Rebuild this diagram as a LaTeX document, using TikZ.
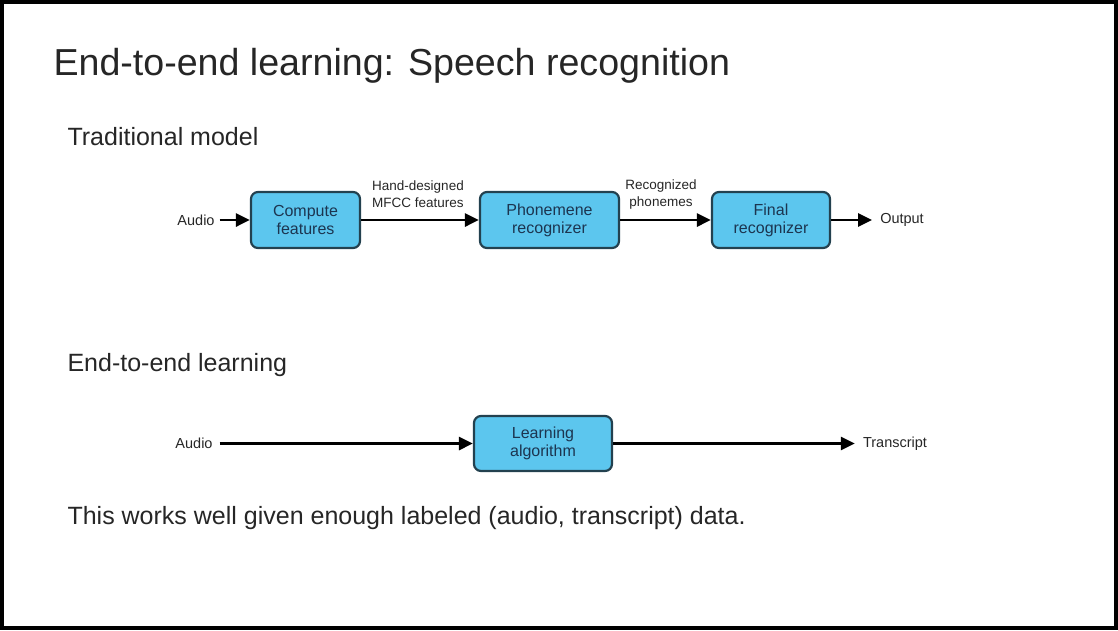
\documentclass[tikz,border=0pt]{standalone}
\usepackage{fontspec}
\setmainfont{Liberation Sans}
\usepackage{tikz}
\usetikzlibrary{arrows.meta}
\definecolor{boxfill}{HTML}{5CC6EE}
\definecolor{boxline}{HTML}{23414F}
\definecolor{boxtext}{HTML}{1C3550}
\definecolor{inktext}{HTML}{262626}

\begin{document}
\begin{tikzpicture}[x=1pt, y=-1pt,
          box/.style={rectangle, rounded corners=7pt, draw=boxline, fill=boxfill,
                      line width=2.2pt, text=boxtext, align=center,
                      font=\fontsize{16}{18}\selectfont, inner sep=0pt},
          lbl/.style={text=inktext, font=\fontsize{14.5}{16}\selectfont, align=center, inner sep=5pt},
          head/.style={text=inktext, anchor=west, font=\fontsize{25}{28}\selectfont},
          arr/.style={-{Triangle[length=14pt, width=13pt]}, line width=2.8pt, black}
        ]
        \useasboundingbox (0,0) rectangle (1118,630);
        \draw[line width=4pt] (2,2) rectangle (1116,628);

        % Headings
        \node[head, font=\fontsize{37.6}{40}\selectfont] (title) at (50,66) {End-to-end learning: Speech recognition};
        \node[head] (trad) at (64,137) {Traditional model};
        \node[head] (e2e) at (64,365) {End-to-end learning};
        \node[head] (note) at (64,518) {This works well given enough labeled (audio, transcript) data.};

        % Traditional pipeline
        \node[lbl] (ain) at (196,220) {Audio};
        \node[box, minimum width=109pt, minimum height=56pt] (cf) at (305.5,220) {Compute\\features};
        \node[box, minimum width=139pt, minimum height=56pt] (pr) at (549.5,220) {Phonemene\\recognizer};
        \node[box, minimum width=118pt, minimum height=56pt] (fr) at (771,220) {Final\\recognizer};
        \node[lbl, inner sep=8pt] (out) at (902,220) {Output};

        \draw[arr] (ain.east) -- (cf.west);
        \draw[arr] (cf.east) -- (pr.west);
        \draw[arr] (pr.east) -- (fr.west);
        \draw[arr] (fr.east) -- (out.west);

        \node[lbl, font=\fontsize{13.5}{17}\selectfont] (mfcc) at (418,194) {Hand-designed\\MFCC features};
        \node[lbl, font=\fontsize{13.5}{17}\selectfont] (phon) at (661,195) {Recognized\\phonemes};

        % End-to-end pipeline
        \node[lbl, inner sep=7pt] (ain2) at (194,443.5) {Audio};
        \node[box, minimum width=138pt, minimum height=55pt] (la) at (543,443.5) {Learning\\algorithm};
        \node[lbl, inner sep=8pt] (trn) at (895,443.5) {Transcript};

        \draw[arr] (ain2.east) -- (la.west);
        \draw[arr] (la.east) -- (trn.west);
      \end{tikzpicture}
\end{document}
